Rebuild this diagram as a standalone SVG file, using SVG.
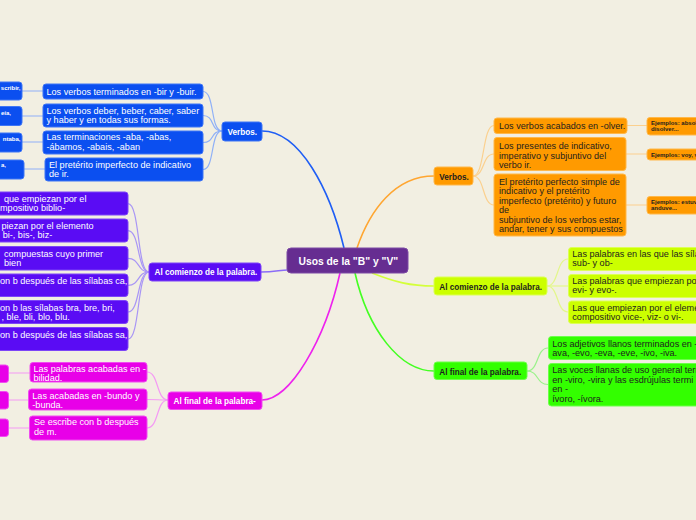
<svg xmlns="http://www.w3.org/2000/svg" width="696" height="520" viewBox="0 0 696 520">
<style>
.t{font-family:"Liberation Sans",Arial,sans-serif;font-size:9.1px}
.b{font-family:"Liberation Sans",Arial,sans-serif;font-size:8.2px;font-weight:bold}
.c{font-family:"Liberation Sans",Arial,sans-serif;font-size:10.3px;font-weight:bold;fill:#fff}
.e{font-family:"Liberation Sans",Arial,sans-serif;font-size:6px;font-weight:bold}
.w{fill:#fff}.k{fill:#1e1e1e}
.blue{fill:#0b4ff0;stroke:#3f76f5;stroke-width:1}
.pur{fill:#5a0cf4;stroke:#7d45f7;stroke-width:1}
.mag{fill:#e800e8;stroke:#f04cf0;stroke-width:1}
.ora{fill:#ff9a00;stroke:#ffb84a;stroke-width:1}
.lim{fill:#ccff00;stroke:#dcff55;stroke-width:1}
.grn{fill:#33ff00;stroke:#6dff4a;stroke-width:1}
.ctr{fill:#662d91;stroke:#7d4aa5;stroke-width:1}
#connectors path{fill:none}
.cb{stroke:#8fb0f7;stroke-width:1.2}
.cp{stroke:#a996f5;stroke-width:1.2}
.cm{stroke:#f49af4;stroke-width:1.2}
.co{stroke:#fbd08e;stroke-width:1.2}
.cl{stroke:#e3f78a;stroke-width:1.2}
.cg{stroke:#9af28a;stroke-width:1.2}
</style>
<rect width="696" height="520" fill="#f2efe2"/>
<g id="connectors">
<path d="M262,131 C300,131 330,190 344,248" stroke="#1f5ef5" stroke-width="1.6"/>
<path d="M434,176 C395,176 370,210 357,248" stroke="#ffa631" stroke-width="1.6"/>
<path d="M261,272 C275,272 280,270 288,270" stroke="#8b6cf7" stroke-width="1.6"/>
<path d="M262,400 C290,400 325,340 340,273" stroke="#ee22ee" stroke-width="1.6"/>
<path d="M372,273 C395,282 410,286 434,286" stroke="#d4ff3a" stroke-width="1.6"/>
<path d="M434,371 C400,371 368,330 355,273" stroke="#44ff22" stroke-width="1.6"/>
<path class="cb" d="M222,131 C210,131 215,91.5 203,91.5"/>
<path class="cb" d="M222,131 C210,131 215,115.5 203,115.5"/>
<path class="cb" d="M222,131 C210,131 215,142.5 203,142.5"/>
<path class="cb" d="M222,131 C210,131 215,169.5 203,169.5"/>
<path class="cb" d="M22,91 H43 M22,116 H43 M22,142 H43 M24,169 H45"/>
<path class="cp" d="M149,272 C137,272 140,203.6 128,203.6"/>
<path class="cp" d="M149,272 C137,272 140,230.6 128,230.6"/>
<path class="cp" d="M149,272 C137,272 140,258.3 128,258.3"/>
<path class="cp" d="M149,272 C137,272 140,285.3 128,285.3"/>
<path class="cp" d="M149,272 C137,272 140,312 128,312"/>
<path class="cp" d="M149,272 C137,272 140,339 128,339"/>
<path class="cm" d="M168,400 C156,400 159,372 147,372"/>
<path class="cm" d="M168,400 C156,400 159,399.5 147,399.5"/>
<path class="cm" d="M168,400 C156,400 159,428 147,428"/>
<path class="cm" d="M8,373 H30 M8,400 H28 M8,428 H29"/>
<path class="co" d="M473,176 C485,176 482,125.5 494,125.5"/>
<path class="co" d="M473,176 C485,176 482,154 494,154"/>
<path class="co" d="M473,176 C485,176 482,205 494,205"/>
<path class="co" stroke-width="2" d="M627,125.5 H647 M626,154 H647 M626,205 H647"/>
<path class="cl" d="M547,286 C559,286 556,259 568,259"/>
<path class="cl" d="M547,286 C559,286 556,286 568,286"/>
<path class="cl" d="M547,286 C559,286 556,312 568,312"/>
<path class="cg" d="M527,371 C539,371 536,348 548,348"/>
<path class="cg" d="M527,371 C539,371 536,384.5 548,384.5"/>
</g>
<g id="center"><rect class="ctr" x="287" y="248" width="121" height="25" rx="4"/><text class="c" x="298.5" y="264.5">Usos de la "B" y "V"</text></g>
<g id="verbos-left"><rect class="blue" x="222" y="122" width="40" height="19" rx="3"/><text class="b w" x="227.5" y="134.5">Verbos.</text></g>
<g id="bl1"><rect class="blue" x="43" y="84" width="160" height="15" rx="3"/><text class="t w" x="46.5" y="95">Los verbos terminados en -bir y -buir.</text></g>
<g id="bl2"><rect class="blue" x="43" y="104" width="160" height="23" rx="3"/><text class="t w" x="46.5" y="113.5">Los verbos deber, beber, caber, saber<tspan x="46.5" dy="9.2">y haber y en todas sus formas.</tspan></text></g>
<g id="bl3"><rect class="blue" x="43" y="131" width="160" height="23" rx="3"/><text class="t w" x="46.5" y="140.3">Las terminaciones -aba, -abas,<tspan x="46.5" dy="9.2">-ábamos, -abais, -aban</tspan></text></g>
<g id="bl4"><rect class="blue" x="45" y="158" width="158" height="23" rx="3"/><text class="t w" x="49" y="167.5">El pretérito imperfecto de indicativo<tspan x="49" dy="9.2">de ir.</tspan></text></g>
<g id="bs1"><rect class="blue" x="-10" y="82" width="32" height="18" rx="3"/><text class="e w" x="20.5" y="90" text-anchor="end">scribir,</text></g>
<g id="bs2"><rect class="blue" x="-10" y="106.5" width="32" height="19" rx="3"/><text class="e w" x="1" y="115">eía,</text></g>
<g id="bs3"><rect class="blue" x="-10" y="133" width="32" height="19" rx="3"/><text class="e w" x="20.5" y="141" text-anchor="end">ntaba,</text></g>
<g id="bs4"><rect class="blue" x="-10" y="160" width="34" height="19" rx="3"/><text class="e w" x="1" y="166.5">a,</text></g>
<g id="comienzo-left"><rect class="pur" x="149" y="263" width="112" height="18" rx="3"/><text class="b w" x="154.5" y="274.5">Al comienzo de la palabra.</text></g>
<g id="pl1"><rect class="pur" x="-10" y="192" width="138" height="23" rx="3"/><text class="t w" x="4" y="201.7">que empiezan por el<tspan x="0" dy="9.6">mpositivo biblio-</tspan></text></g>
<g id="pl2"><rect class="pur" x="-10" y="219" width="138" height="23" rx="3"/><text class="t w" x="1.5" y="229">piezan por el elemento<tspan x="2.7" dy="9.4">bi-, bis-, biz-</tspan></text></g>
<g id="pl3"><rect class="pur" x="-10" y="246.5" width="138" height="23.5" rx="3"/><text class="t w" x="4" y="256.7">compuestas cuyo primer<tspan x="4" dy="9.4">bien</tspan></text></g>
<g id="pl4"><rect class="pur" x="-10" y="274" width="138" height="22.5" rx="3"/><text class="t w" x="0" y="284">on b después de las sílabas ca,</text></g>
<g id="pl5"><rect class="pur" x="-10" y="300.5" width="138" height="23" rx="3"/><text class="t w" x="0" y="311">on b las sílabas bra, bre, bri,<tspan x="1.5" dy="9.2">, ble, bli, blo, blu.</tspan></text></g>
<g id="pl6"><rect class="pur" x="-10" y="327.5" width="138" height="23" rx="3"/><text class="t w" x="0" y="337.7">on b después de las sílabas sa,</text></g>
<g id="final-left"><rect class="mag" x="168" y="392" width="94" height="17.5" rx="3"/><text class="b w" x="173.5" y="403.5">Al final de la palabra-</text></g>
<g id="ml1"><rect class="mag" x="30" y="362.5" width="117" height="19.5" rx="3"/><text class="t w" x="33.5" y="371.7">Las palabras acabadas en -<tspan x="33.5" dy="9.1">bilidad.</tspan></text></g>
<g id="ml2"><rect class="mag" x="28.5" y="389" width="118.5" height="21" rx="3"/><text class="t w" x="32.3" y="398.5">Las acabadas en -bundo y<tspan x="32.3" dy="9.6">-bunda.</tspan></text></g>
<g id="ml3"><rect class="mag" x="29.5" y="416" width="117.5" height="24" rx="3"/><text class="t w" x="34" y="425.3">Se escribe con b después<tspan x="34" dy="9.6">de m.</tspan></text></g>
<g id="ms1"><rect class="mag" x="-10" y="365" width="18.5" height="17.5" rx="3"/></g>
<g id="ms2"><rect class="mag" x="-10" y="391.5" width="18.5" height="17.5" rx="3"/></g>
<g id="ms3"><rect class="mag" x="-10" y="419" width="18.5" height="17.5" rx="3"/></g>
<g id="verbos-right"><rect class="ora" x="434" y="167" width="39" height="18" rx="3"/><text class="b k" x="439.3" y="179.5">Verbos.</text></g>
<g id="or1"><rect class="ora" x="494" y="118" width="133" height="15.5" rx="3"/><text class="t k" x="499" y="129">Los verbos acabados en -olver.</text></g>
<g id="or2"><rect class="ora" x="494" y="137.5" width="132" height="33" rx="3"/><text class="t k" x="499" y="149.3">Los presentes de indicativo,<tspan x="499" dy="9.3">imperativo y subjuntivo del</tspan><tspan x="499" dy="9.3">verbo ir.</tspan></text></g>
<g id="or3"><rect class="ora" x="494" y="174" width="132" height="62" rx="3"/><text class="t k" x="499" y="185">El pretérito perfecto simple de<tspan x="499" dy="9.45">indicativo y el pretérito</tspan><tspan x="499" dy="9.45">imperfecto (pretérito) y futuro</tspan><tspan x="499" dy="9.45">de</tspan><tspan x="499" dy="9.45">subjuntivo de los verbos estar,</tspan><tspan x="499" dy="9.45">andar, tener y sus compuestos</tspan></text></g>
<g id="oe1"><rect class="ora" x="647" y="117.5" width="60" height="17.5" rx="3"/><text class="e k" x="651" y="124.5">Ejemplos: absoh<tspan x="651" dy="6.8">disolver...</tspan></text></g>
<g id="oe2"><rect class="ora" x="647" y="149" width="60" height="11" rx="3"/><text class="e k" x="651" y="156.5">Ejemplos: voy, v</text></g>
<g id="oe3"><rect class="ora" x="647" y="196.5" width="60" height="17.5" rx="3"/><text class="e k" x="651" y="203.5">Ejemplos: estuve<tspan x="651" dy="6.8">anduve...</tspan></text></g>
<g id="comienzo-right"><rect class="lim" x="434" y="277" width="113" height="18" rx="3"/><text class="b k" x="439.3" y="289.5">Al comienzo de la palabra.</text></g>
<g id="yl1"><rect class="lim" x="568.5" y="247.5" width="140" height="23" rx="3"/><text class="t k" x="572.3" y="257.3">Las palabras en las que las síla<tspan x="572.3" dy="9">sub- y ob-</tspan></text></g>
<g id="yl2"><rect class="lim" x="568.5" y="274.5" width="140" height="23" rx="3"/><text class="t k" x="572.3" y="284">Las palabras que empiezan por<tspan x="572.3" dy="9.3">evi- y evo-.</tspan></text></g>
<g id="yl3"><rect class="lim" x="568.5" y="301" width="140" height="22.5" rx="3"/><text class="t k" x="572.3" y="310.7">Las que empiezan por el eleme<tspan x="572.3" dy="9.3">compositivo vice-, viz- o vi-.</tspan></text></g>
<g id="final-right"><rect class="grn" x="434" y="362" width="93" height="17.5" rx="3"/><text class="b k" x="439.3" y="374.5">Al final de la palabra.</text></g>
<g id="gl1"><rect class="grn" x="548.5" y="336.5" width="160" height="23" rx="3"/><text class="t k" x="552.3" y="346.7">Los adjetivos llanos terminados en -<tspan x="552.3" dy="9.3">ava, -evo, -eva, -eve, -ivo, -iva.</tspan></text></g>
<g id="gl2"><rect class="grn" x="548.5" y="363.5" width="160" height="42.5" rx="3"/><text class="t k" x="552.3" y="373.3">Las voces llanas de uso general term<tspan x="552.3" dy="9.4">en -viro, -vira y las esdrújulas termi</tspan><tspan x="552.3" dy="9.4">en -</tspan><tspan x="552.3" dy="9.4">ívoro, -ívora.</tspan></text></g>
</svg>
